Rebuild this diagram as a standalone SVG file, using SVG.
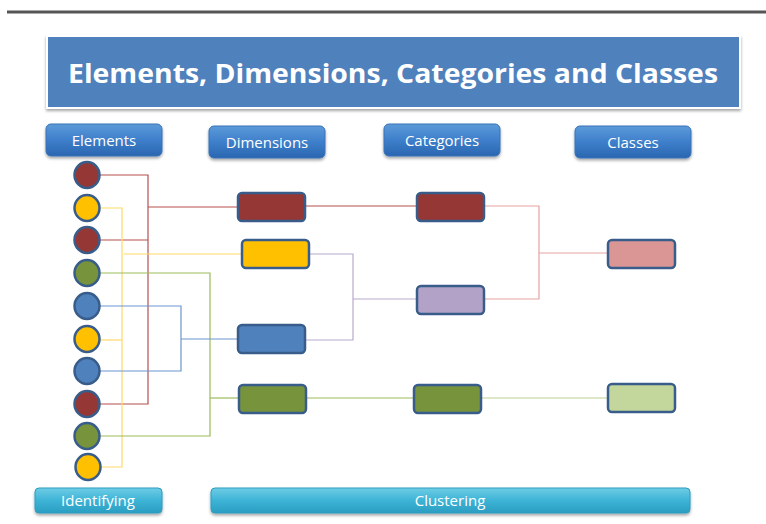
<svg xmlns="http://www.w3.org/2000/svg" width="766" height="524" viewBox="0 0 766 524">
<defs>
<linearGradient id="gBtn" x1="0" y1="0" x2="0" y2="1">
<stop offset="0" stop-color="#5C9AD8"/>
<stop offset="0.5" stop-color="#3E7FCB"/>
<stop offset="1" stop-color="#2A66B0"/>
</linearGradient>
<linearGradient id="gCyan" x1="0" y1="0" x2="0" y2="1">
<stop offset="0" stop-color="#6FCDE6"/>
<stop offset="0.5" stop-color="#3DB3D6"/>
<stop offset="1" stop-color="#2A9EC2"/>
</linearGradient>
<filter id="sh" x="-10%" y="-20%" width="120%" height="150%">
<feDropShadow dx="0" dy="2" stdDeviation="1.5" flood-color="#000" flood-opacity="0.35"/>
</filter>
</defs>
<style>
.btn{fill:url(#gBtn);stroke:#3A72B8;stroke-width:1;filter:url(#sh)}
.bar{fill:url(#gCyan);stroke:#2F9CBF;stroke-width:1;filter:url(#sh)}
.lbl{font-family:"Open Sans","Liberation Sans",sans-serif;font-size:15px;fill:#fff;text-anchor:middle}
.el{stroke:#385D8A;stroke-width:2.5}
.box{stroke:#385D8A;stroke-width:2.5}
.c{fill:none;stroke-width:1.2}
.r{stroke:#B5504D}.y{stroke:#FFD966}.g{stroke:#9BBB59}.b{stroke:#6C96CE}.p{stroke:#B8A9CE}.k{stroke:#E6A3A1}.lg{stroke:#DDE8C8;stroke-width:2}
</style>
<rect x="0" y="0" width="766" height="524" fill="#fff"/>
<line x1="7" y1="12" x2="766" y2="12" stroke="#555" stroke-width="3"/>
<g id="title">
<rect x="47" y="36" width="693" height="72" fill="#4F81BD" stroke="#fff" stroke-width="2" filter="url(#sh)"/>
<text x="393" y="83" font-family="'Open Sans','Liberation Sans',sans-serif" font-weight="bold" font-size="27" fill="#fff" text-anchor="middle" textLength="650" lengthAdjust="spacingAndGlyphs">Elements, Dimensions, Categories and Classes</text>
</g>
<g id="hdr-elements"><rect class="btn" x="46" y="124" width="116" height="32" rx="5"/><text class="lbl" x="104" y="146">Elements</text></g>
<g id="hdr-dimensions"><rect class="btn" x="209" y="126" width="116" height="32" rx="5"/><text class="lbl" x="267" y="148">Dimensions</text></g>
<g id="hdr-categories"><rect class="btn" x="384" y="124" width="116" height="32" rx="5"/><text class="lbl" x="442" y="146">Categories</text></g>
<g id="hdr-classes"><rect class="btn" x="575" y="126" width="116" height="32" rx="5"/><text class="lbl" x="633" y="148">Classes</text></g>
<g id="connectors">
<polyline class="c r" points="99,175 148,175 148,404 99,404"/>
<line class="c r" x1="99" y1="240" x2="148" y2="240"/>
<line class="c r" x1="148" y1="207" x2="238" y2="207"/>
<polyline class="c y" points="99,208 122,208 122,467 99,467"/>
<line class="c y" x1="99" y1="340" x2="122" y2="340"/>
<line class="c y" x1="124" y1="254" x2="242" y2="254"/>
<polyline class="c g" points="99,273 210,273 210,436 99,436"/>
<line class="c g" x1="210" y1="398" x2="239" y2="398"/>
<polyline class="c b" points="99,306 181,306 181,371 99,371"/>
<line class="c b" x1="181" y1="339" x2="238" y2="339"/>
<polyline class="c p" points="309,254 353,254 353,340 305,340"/>
<line class="c p" x1="353" y1="299" x2="417" y2="299"/>
<line class="c r" x1="305" y1="206" x2="417" y2="206"/>
<line class="c g" x1="306" y1="398" x2="414" y2="398"/>
<polyline class="c k" points="484,206 539,206 539,299 484,299"/>
<line class="c k" x1="539" y1="253" x2="608" y2="253"/>
<line class="c lg" x1="481" y1="398" x2="608" y2="398"/>
</g>
<g id="e1"><ellipse class="el" cx="87" cy="175" rx="12.5" ry="13" fill="#953735"/></g>
<g id="e2"><ellipse class="el" cx="87" cy="208" rx="12.5" ry="13" fill="#FFC000"/></g>
<g id="e3"><ellipse class="el" cx="87" cy="240" rx="12.5" ry="13" fill="#953735"/></g>
<g id="e4"><ellipse class="el" cx="87" cy="273" rx="12.5" ry="13" fill="#77933C"/></g>
<g id="e5"><ellipse class="el" cx="87" cy="306" rx="12.5" ry="13" fill="#4F81BD"/></g>
<g id="e6"><ellipse class="el" cx="87" cy="339" rx="12.5" ry="13" fill="#FFC000"/></g>
<g id="e7"><ellipse class="el" cx="87" cy="371" rx="12.5" ry="13" fill="#4F81BD"/></g>
<g id="e8"><ellipse class="el" cx="87" cy="404" rx="12.5" ry="13" fill="#953735"/></g>
<g id="e9"><ellipse class="el" cx="87" cy="436" rx="12.5" ry="13" fill="#77933C"/></g>
<g id="e10"><ellipse class="el" cx="88" cy="467" rx="12.5" ry="13" fill="#FFC000"/></g>
<g id="d-red"><rect class="box" x="238" y="193" width="67" height="28" rx="4" fill="#953735"/></g>
<g id="d-yellow"><rect class="box" x="242" y="240" width="67" height="28" rx="4" fill="#FFC000"/></g>
<g id="d-blue"><rect class="box" x="238" y="325" width="67" height="28" rx="4" fill="#4F81BD"/></g>
<g id="d-green"><rect class="box" x="239" y="385" width="67" height="28" rx="4" fill="#77933C"/></g>
<g id="c-red"><rect class="box" x="417" y="193" width="67" height="28" rx="4" fill="#953735"/></g>
<g id="c-purple"><rect class="box" x="417" y="286" width="67" height="28" rx="4" fill="#B2A2C7"/></g>
<g id="c-green"><rect class="box" x="414" y="385" width="67" height="28" rx="4" fill="#77933C"/></g>
<g id="k-pink"><rect class="box" x="608" y="240" width="67" height="28" rx="4" fill="#D99694"/></g>
<g id="k-lightgreen"><rect class="box" x="608" y="384" width="67" height="28" rx="4" fill="#C3D69B"/></g>
<g id="bar-identifying"><rect class="bar" x="35" y="488" width="127" height="25" rx="4"/><text class="lbl" x="98" y="506">Identifying</text></g>
<g id="bar-clustering"><rect class="bar" x="211" y="488" width="479" height="25" rx="4"/><text class="lbl" x="450" y="506">Clustering</text></g>
</svg>
